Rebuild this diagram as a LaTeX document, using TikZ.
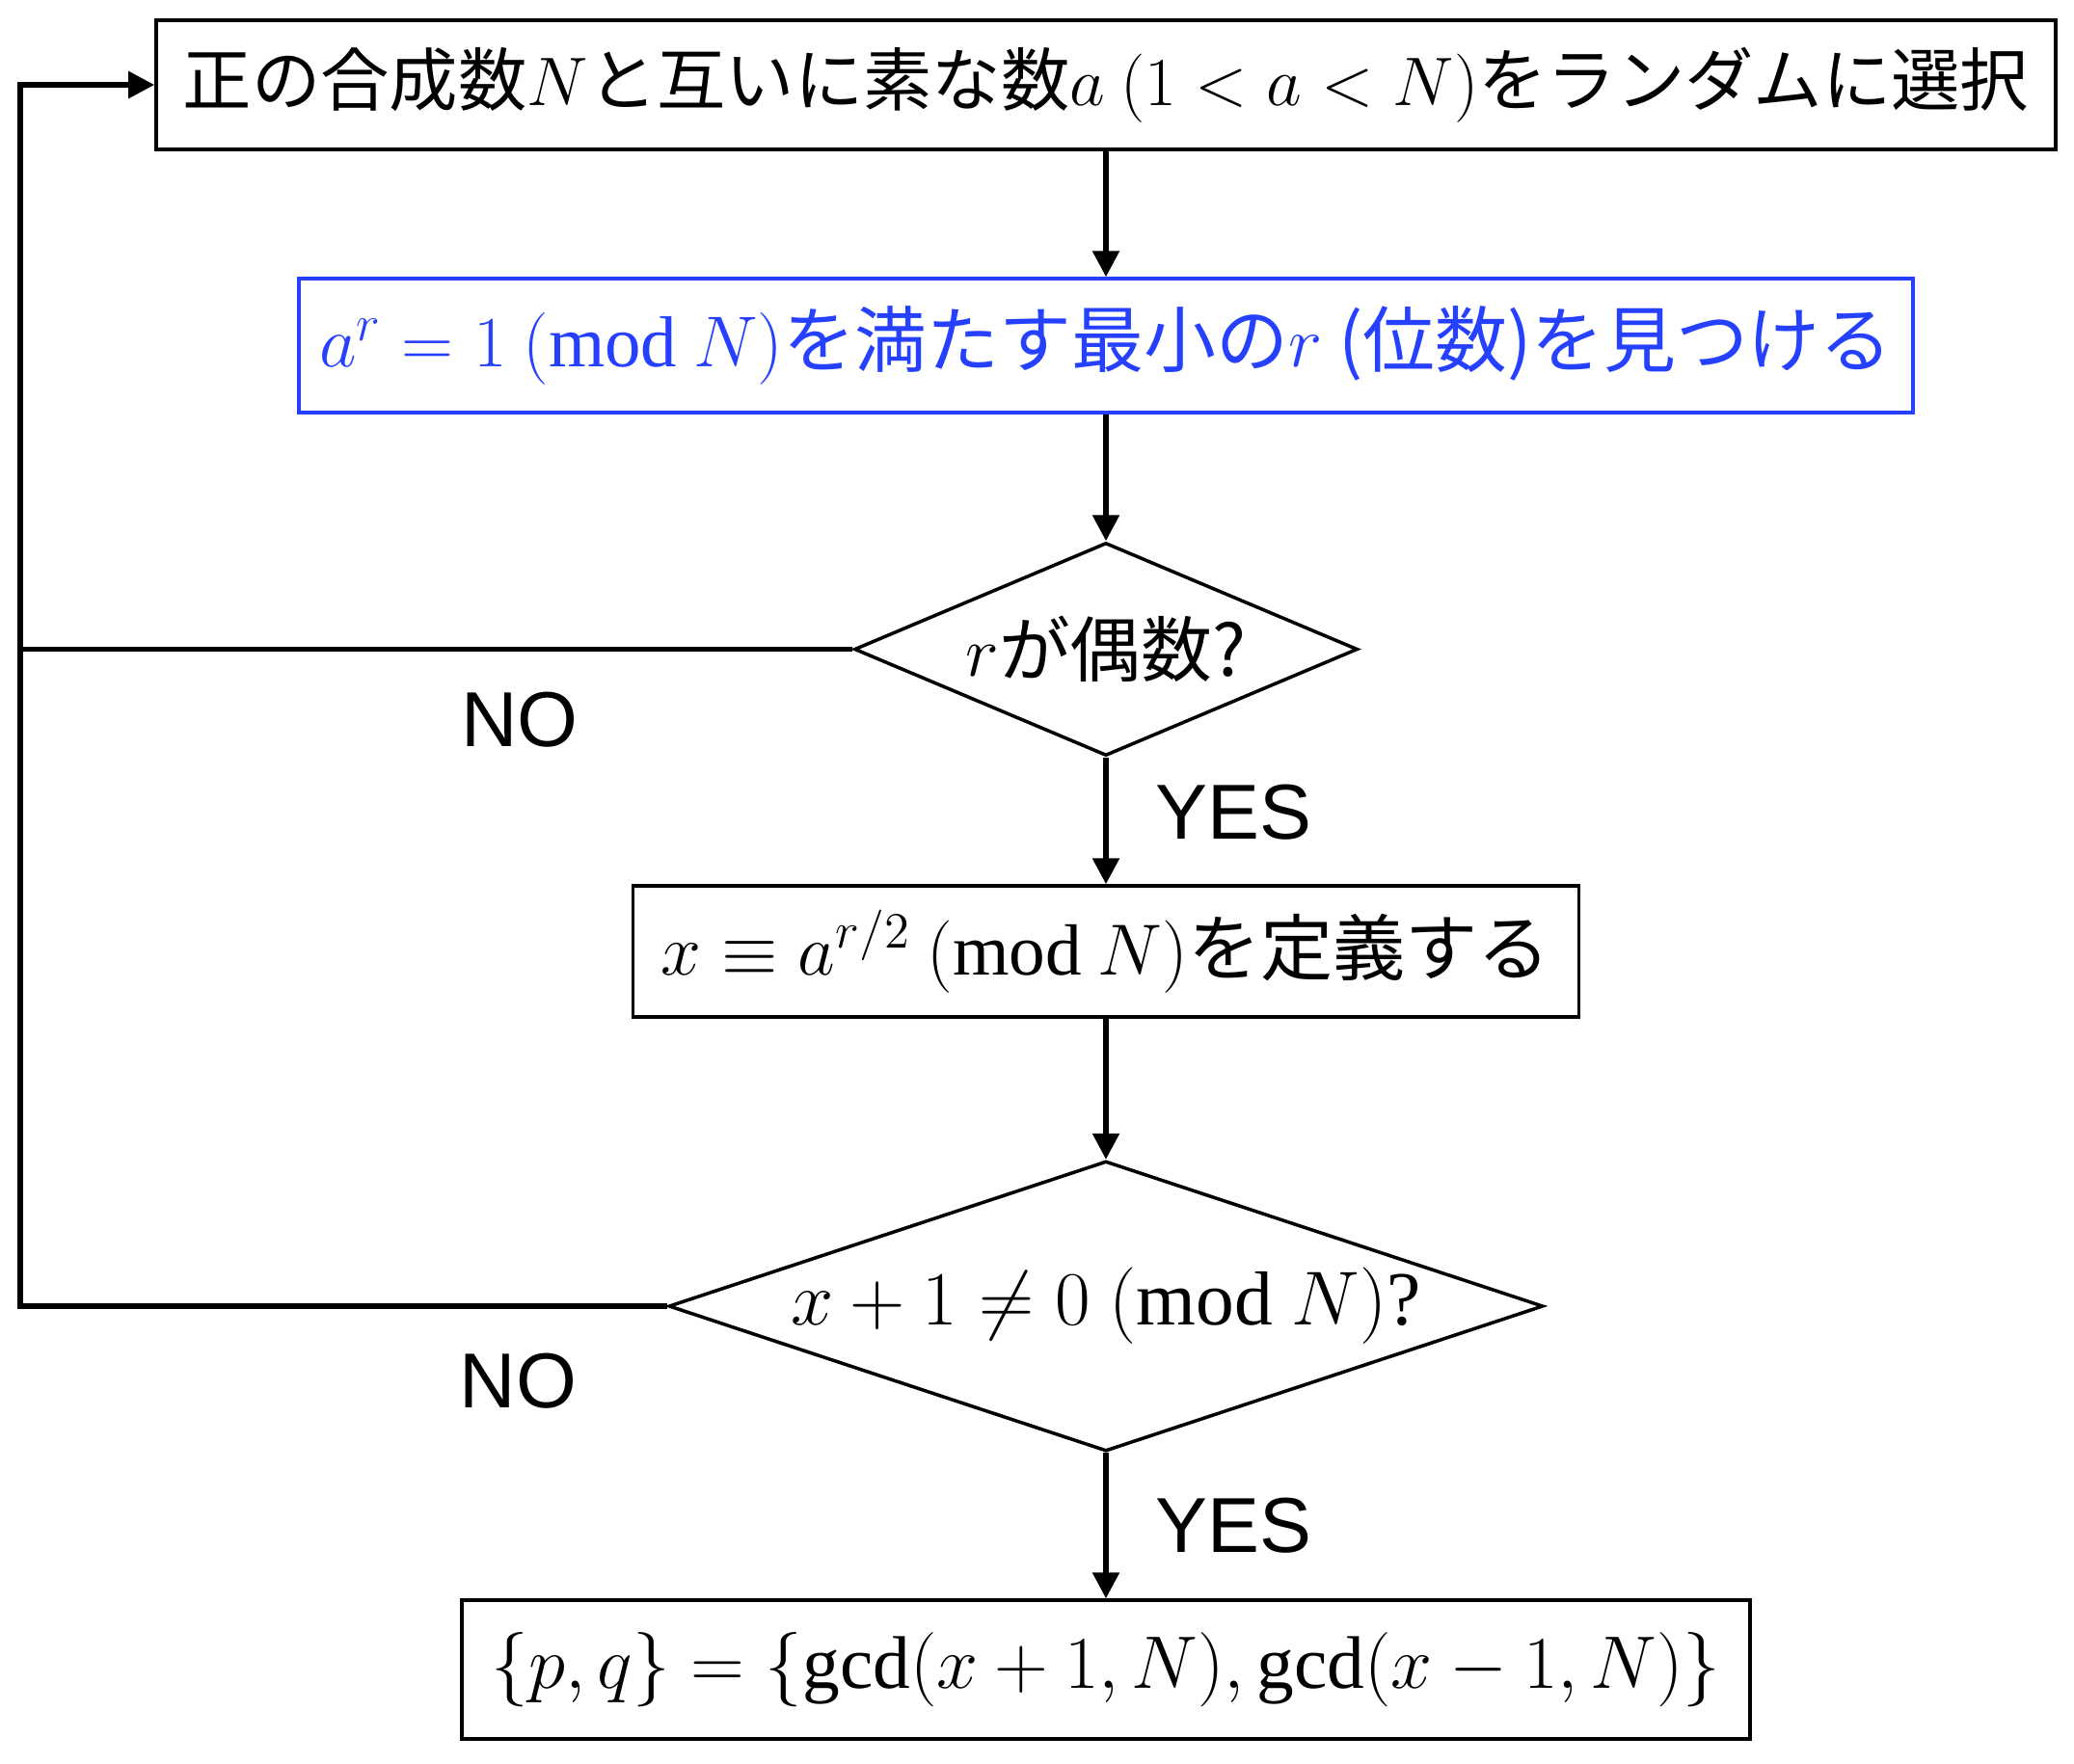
\RequirePackage{fix-cm}
\documentclass[tikz,border=0pt]{standalone}
\usepackage{fontspec}
\setmainfont{Liberation Serif}
\setsansfont{Liberation Sans}
\newfontfamily\jpfont{Noto Sans CJK JP}
\definecolor{orderblue}{RGB}{38, 64, 255}
\usetikzlibrary{shapes, arrows.meta, positioning, calc}

\begin{document}
\begin{tikzpicture}[
  stepbox/.style={draw, line width=1pt, inner sep=0pt, font=\fontsize{22}{26}\selectfont},
  decide/.style={draw, diamond, line width=1pt, inner sep=0pt, font=\fontsize{22}{26}\selectfont},
  flow/.style={line width=1.6pt, -{Triangle[length=2.7mm, width=2.7mm]}},
  answer/.style={font=\sffamily\fontsize{23}{27}\selectfont, inner sep=0pt}
]
\useasboundingbox (0,0) rectangle (21.51,-18.29);
\coordinate (loop) at (0.21,0);

\node[stepbox, minimum width=19.70cm, minimum height=1.34cm, font=\fontsize{20.3}{24}\selectfont] (pick) at (11.47,-0.88)
  {\jpfont 正の合成数$N$と互いに素な数$a$ $(1<a<N)$をランダムに選択};
\node[stepbox, draw=orderblue, text=orderblue, minimum width=16.74cm, minimum height=1.39cm, font=\fontsize{21.3}{25}\selectfont] (find) at (11.47,-3.585)
  {\jpfont $a^r=1\ (\mathrm{mod}\ N)$を満たす最小の$r$ (位数)を見つける};
\node[decide, minimum width=5.22cm, minimum height=2.21cm,
  label={[font=\fontsize{21}{25}\selectfont]center:{\jpfont $r$が偶数?}}] (even) at (11.47,-6.735) {};
\node[stepbox, minimum width=9.81cm, minimum height=1.36cm, font=\fontsize{21.4}{25}\selectfont] (half) at (11.47,-9.87)
  {\jpfont $x\equiv a^{r/2}\ (\mathrm{mod}\ N)$を定義する};
\node[decide, minimum width=9.07cm, minimum height=3.01cm,
  label={[font=\fontsize{22.6}{27}\selectfont]center:{$x+1\neq 0\ (\mathrm{mod}\ N)$?}}] (check) at (11.47,-13.55) {};
\node[stepbox, minimum width=13.36cm, minimum height=1.44cm] (result) at (11.47,-17.32)
  {$\{p,q\}=\{\gcd(x+1,N),\gcd(x-1,N)\}$};

\draw[flow] (pick) -- (find);
\draw[flow] (find) -- (even);
\draw[flow] (even) -- node[answer, pos=0.43, right=0.49cm] {YES} (half);
\draw[flow] (half) -- (check);
\draw[flow] (check) -- node[answer, pos=0.5, right=0.49cm] {YES} (result);
\draw[line width=1.6pt] (even.west) -- node[answer, pos=0.4, below=0.42cm] {NO} (even.west -| loop);
\draw[flow] (check.west) -- node[answer, pos=0.23, below=0.46cm] {NO} (check.west -| loop) |- (pick.west);
\end{tikzpicture}
\end{document}
